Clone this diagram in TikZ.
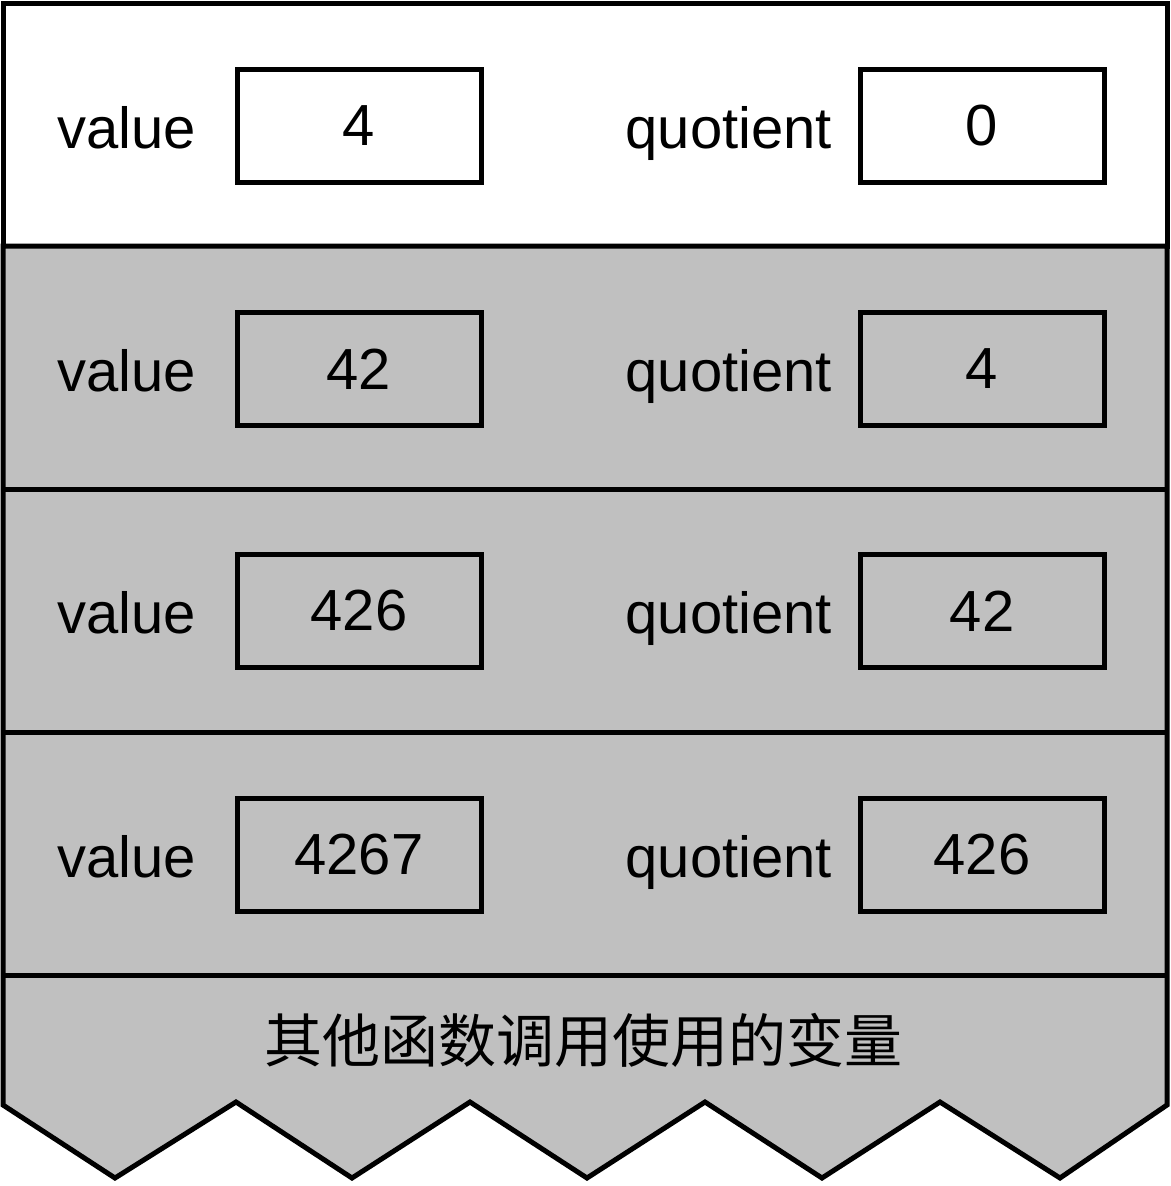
\documentclass[tikz,border=0pt]{standalone}
\usepackage{fontspec}
\setmainfont{Liberation Sans}
\newfontfamily\cjk{Noto Sans CJK SC}
\definecolor{stackgray}{RGB}{192,192,192}
\begin{document}
\begin{tikzpicture}[x=1pt,y=-1pt,line width=5pt,line join=miter,
  valbox/.style={draw,minimum width=244pt,minimum height=113pt,inner sep=0pt,
    font=\fontsize{58}{60}\selectfont},
  varname/.style={anchor=base west,inner sep=0pt,font=\fontsize{58}{60}\selectfont}]
\useasboundingbox (0,0) rectangle (1170,1186);
% current frame (white)
\draw (3,3) rectangle (1167,246);
% older frames (gray) with torn bottom
\filldraw[fill=stackgray] (3,246) -- (3,1105) -- (115,1178) -- (236,1102)
   -- (352,1178) -- (470,1102) -- (587,1178) -- (705,1102) -- (822,1178)
   -- (940,1102) -- (1060,1178) -- (1167,1105) -- (1167,246) -- cycle;
\foreach \y in {489, 732, 975}
   \draw (3,\y) -- (1167,\y);
% variables of each frame
\foreach \y/\v/\q [count=\i] in {126/4/0, 369/42/4, 611/426/42, 855/4267/426}{
   \node[varname] (vlab\i) at (55,\y+22) {value};
   \node[valbox] (val\i) at (359,\y) {\v};
   \node[varname] (qlab\i) at (623,\y+22) {quotient};
   \node[valbox] (quo\i) at (982,\y) {\q};
}
\node[font=\cjk\fontsize{58}{60}\selectfont] (other) at (583,1040) {其他函数调用使用的变量};
\end{tikzpicture}
\end{document}
